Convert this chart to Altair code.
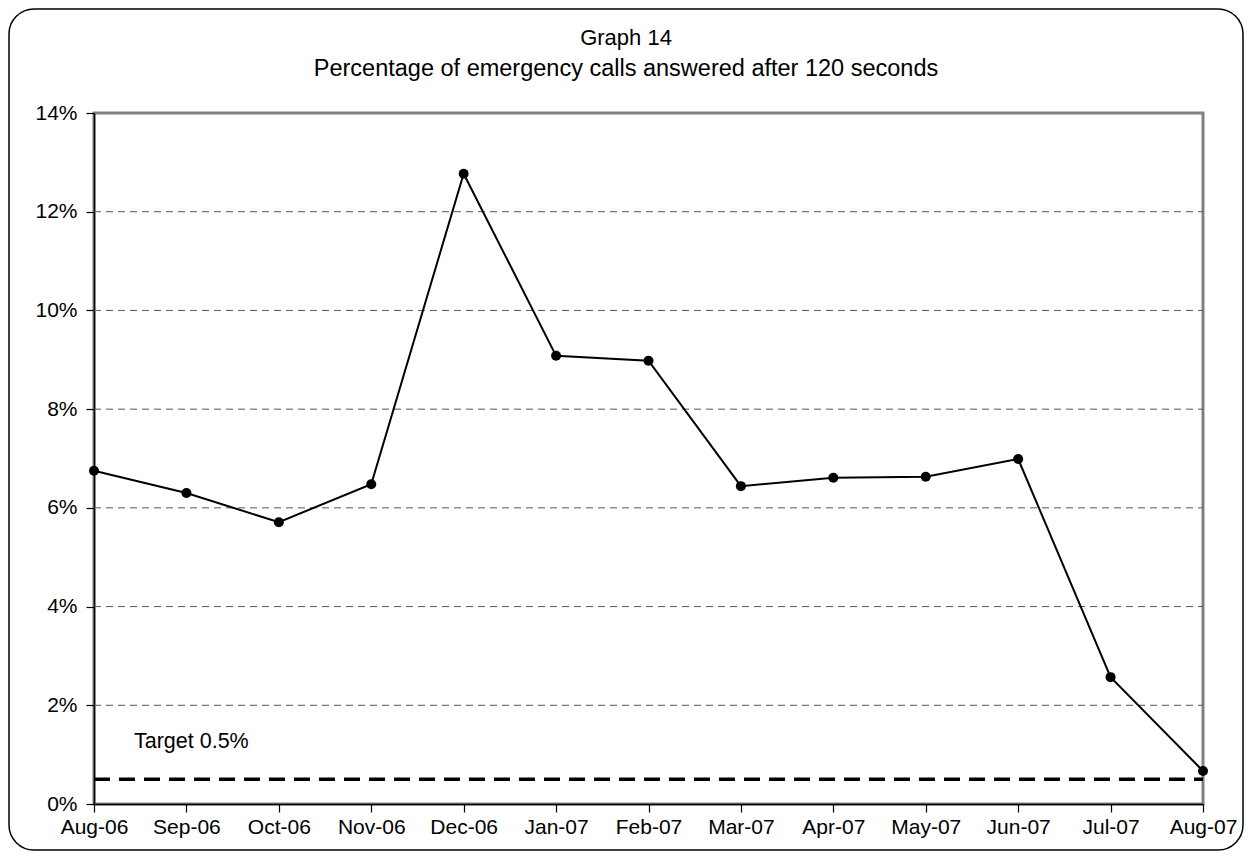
import altair as alt
import pandas as pd

months = ["Aug-06", "Sep-06", "Oct-06", "Nov-06", "Dec-06", "Jan-07", "Feb-07",
          "Mar-07", "Apr-07", "May-07", "Jun-07", "Jul-07", "Aug-07"]
pct = [6.75, 6.30, 5.71, 6.48, 12.77, 9.08, 8.98, 6.44, 6.61, 6.63, 6.99, 2.57, 0.67]
target = 0.5
target_label = "Target 0.5%"
y_ticks = [0, 2, 4, 6, 8, 10, 12, 14]
grid_vals = [2, 4, 6, 8, 10, 12]
title_lines = ["Graph 14", "Percentage of emergency calls answered after 120 seconds"]

df = pd.DataFrame({"month": months, "pct": pct})

FONT = "Liberation Sans"
FS = 21
W, H = 1109, 691

x_scale = alt.Scale(type="point", padding=0, domain=months)
y_scale = alt.Scale(domain=[0, 14], nice=False)

x_axis = alt.Axis(title=None, labelAngle=0, labelFontSize=FS, labelFont=FONT,
                  labelColor="black", tickColor="black", tickSize=8, tickWidth=1.2,
                  domainColor="black", domainWidth=1.5, labelPadding=4, grid=False)
y_axis = alt.Axis(title=None, values=y_ticks, labelExpr="datum.value + '%'",
                  labelFontSize=FS, labelFont=FONT, labelColor="black",
                  tickColor="black", tickSize=8, tickWidth=1.2,
                  domainColor="black", domainWidth=1.5, labelPadding=9, grid=False)

gdf = pd.DataFrame({"g": grid_vals})
grid = alt.Chart(gdf).mark_rule(color="#555555", strokeWidth=1, strokeDash=[7, 5]).encode(
    y=alt.Y("g:Q", scale=y_scale, axis=y_axis), x=alt.value(0), x2=alt.value(W))

base = alt.Chart(df)
line = base.mark_line(color="black", strokeWidth=2).encode(
    x=alt.X("month:N", sort=months, scale=x_scale, axis=x_axis),
    y=alt.Y("pct:Q", scale=y_scale, axis=y_axis))
pts = base.mark_point(filled=True, color="black", size=100, opacity=1).encode(
    x=alt.X("month:N", sort=months, scale=x_scale, axis=x_axis),
    y=alt.Y("pct:Q", scale=y_scale, axis=y_axis))

tdf = pd.DataFrame({"t": [target]})
trule = alt.Chart(tdf).mark_rule(color="black", strokeWidth=3.5, strokeDash=[16, 9]).encode(
    y=alt.Y("t:Q", scale=y_scale, axis=y_axis), x=alt.value(0), x2=alt.value(W))

ldf = pd.DataFrame({"month": [months[0]], "y": [1.25], "label": [target_label]})
tlabel = alt.Chart(ldf).mark_text(align="left", baseline="middle", dx=40, fontSize=21.5,
                                  font=FONT, color="black").encode(
    x=alt.X("month:N", sort=months, scale=x_scale, axis=x_axis),
    y=alt.Y("y:Q", scale=y_scale, axis=y_axis),
    text="label:N")

title1 = alt.Chart(pd.DataFrame({"t": [title_lines[0]]})).mark_text(
    align="center", baseline="middle", fontSize=22, font=FONT, color="black").encode(
    x=alt.value(532), y=alt.value(-75), text="t:N")
title2 = alt.Chart(pd.DataFrame({"t": [title_lines[1]]})).mark_text(
    align="center", baseline="middle", fontSize=23.5, font=FONT, color="black").encode(
    x=alt.value(532), y=alt.value(-44), text="t:N")

border = alt.Chart(alt.Data(values=[{"a": 1}])).mark_rect(
    fillOpacity=0, stroke="black", strokeWidth=1.5, cornerRadius=25).encode(
    x=alt.value(-85), x2=alt.value(W + 40), y=alt.value(-104), y2=alt.value(H + 46))

chart = alt.layer(border, grid, trule, line, pts, tlabel, title1, title2).properties(
    width=W, height=H,
    autosize=alt.AutoSizeParams(type="none"),
    padding={"left": 86, "top": 105, "right": 41, "bottom": 47},
).configure(background="white").configure_view(stroke="#808080", strokeWidth=3)

chart.save("out.html", embed_options={"renderer": "svg", "actions": False})
